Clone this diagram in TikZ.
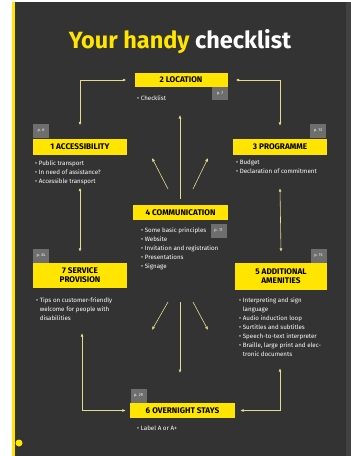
\documentclass[tikz,border=0pt]{standalone}
\usepackage{fontspec}
\setmainfont{Fira Sans}
\usetikzlibrary{arrows.meta}
\definecolor{pagedark}{HTML}{333333}
\definecolor{checkyellow}{HTML}{FFE500}
\definecolor{taggrey}{HTML}{6E6E6E}
\definecolor{linkyellow}{HTML}{E3DC8A}

\begin{document}
\begin{tikzpicture}[x=1pt,y=-1pt,
  headbox/.style={fill=checkyellow,text=black,font=\bfseries\fontsize{8.2}{9.2}\selectfont,align=center,inner sep=1pt},
  pagetag/.style={fill=taggrey,text=white,font=\fontsize{4}{4.5}\selectfont,minimum width=16pt,minimum height=14pt,inner sep=0pt},
  items/.style={anchor=north west,text=white,align=left,font=\fontsize{6.2}{9}\selectfont,inner sep=0pt},
  link/.style={draw=linkyellow,line width=0.6pt,{Latex[length=3.5pt,width=3pt]}-{Latex[length=3.5pt,width=3pt]}},
  spoke/.style={draw=linkyellow,line width=0.6pt,-{Latex[length=3.5pt,width=3pt]}}]
\useasboundingbox (0,0) rectangle (351,456);
% page
\fill[white] (0,0) rectangle (351,456);
\fill[pagedark] (12,2) rectangle (351,456);
\fill[black!74] (346,2) rectangle (351,456);
\fill[checkyellow] (12,2) rectangle (15,456);
\fill[checkyellow] (19,443) circle (3.5);
\node[font=\bfseries\fontsize{23.5}{26}\selectfont] (title) at (180,42) {\textcolor{checkyellow}{Your handy} \textcolor{white}{checklist}};

% headings
\node[headbox,minimum width=93pt,minimum height=14pt] (LOC) at (181,80) {2 LOCATION};
\node[headbox,minimum width=94pt,minimum height=16pt] (ACC) at (80,146.5) {1 ACCESSIBILITY};
\node[headbox,minimum width=94pt,minimum height=16pt] (PROG) at (280,147) {3 PROGRAMME};
\node[headbox,minimum width=95pt,minimum height=15pt] (COMM) at (180.5,212.5) {4 COMMUNICATION};
\node[headbox,minimum width=94pt,minimum height=25pt] (SERV) at (80,275.5) {7 SERVICE\\PROVISION};
\node[headbox,minimum width=92pt,minimum height=27pt] (AMEN) at (281,276.5) {5 ADDITIONAL\\AMENITIES};
\node[headbox,minimum width=105pt,minimum height=15pt] (OVER) at (182.5,410.5) {6 OVERNIGHT STAYS};

% page tags
\node[pagetag,minimum height=13pt] (tLOC) at (220,93.5) {p. 7};
\node[pagetag] (tACC) at (41,130.5) {p. 6};
\node[pagetag] (tPROG) at (318,131) {p. 13};
\node[pagetag] (tCOMM) at (218.5,230.5) {p. 11};
\node[pagetag] (tSERV) at (41,255.5) {p. 24};
\node[pagetag] (tAMEN) at (318.5,255.5) {p. 15};
\node[pagetag] (tOVER) at (138.5,395.5) {p. 29};

% lists
\node[items] (iLOC) at (137,95) {• Checklist};
\node[items] (iACC) at (35,160) {• Public transport\\• In need of assistance?\\• Accessible transport};
\node[items] (iPROG) at (236,160) {• Budget\\• Declaration of commitment};
\node[items] (iCOMM) at (141,227) {• Some basic principles\\• Website\\• Invitation and registration\\• Presentations\\• Signage};
\node[items] (iSERV) at (36,297) {• Tips on customer-friendly\\\phantom{• }welcome for people with\\\phantom{• }disabilities};
\node[items] (iAMEN) at (239,297) {• Interpreting and sign\\\phantom{• }language\\• Audio induction loop\\• Surtitles and subtitles\\• Speech-to-text interpreter\\• Braille, large print and elec-\\\phantom{• }tronic documents};
\node[items] (iOVER) at (137,426) {• Label A or A+};

% outer loop
\draw[link,shorten >=8pt] ([yshift=13pt]ACC.north) |- (LOC.west);
\draw[link,shorten >=8pt] ([yshift=13pt]PROG.north) |- (LOC.east);
\draw[link] ([yshift=-33pt]ACC.south) -- ([yshift=11pt]SERV.north);
\draw[link] ([yshift=-33pt]PROG.south) -- ([yshift=11pt]AMEN.north);
\draw[link,shorten >=4pt] ([xshift=2pt,yshift=-45pt]SERV.south) |- (OVER.west);
\draw[link,shorten >=5pt] ([xshift=-1pt,yshift=-78pt]AMEN.south) |- (OVER.east);

% from communication
\coordinate (cN) at (180,115); \coordinate (cNW) at (152,158); \coordinate (cNE) at (208,158);
\coordinate (cS) at (180,373); \coordinate (cSW) at (152,330); \coordinate (cSE) at (208,330);
\draw[spoke] (180,199) -- (cN);
\draw[spoke] (168,189) -- (cNW);
\draw[spoke] (193,189) -- (cNE);
\draw[spoke] (180,302) -- (cS);
\draw[spoke] (168,302) -- (cSW);
\draw[spoke] (193,302) -- (cSE);
\end{tikzpicture}
\end{document}
